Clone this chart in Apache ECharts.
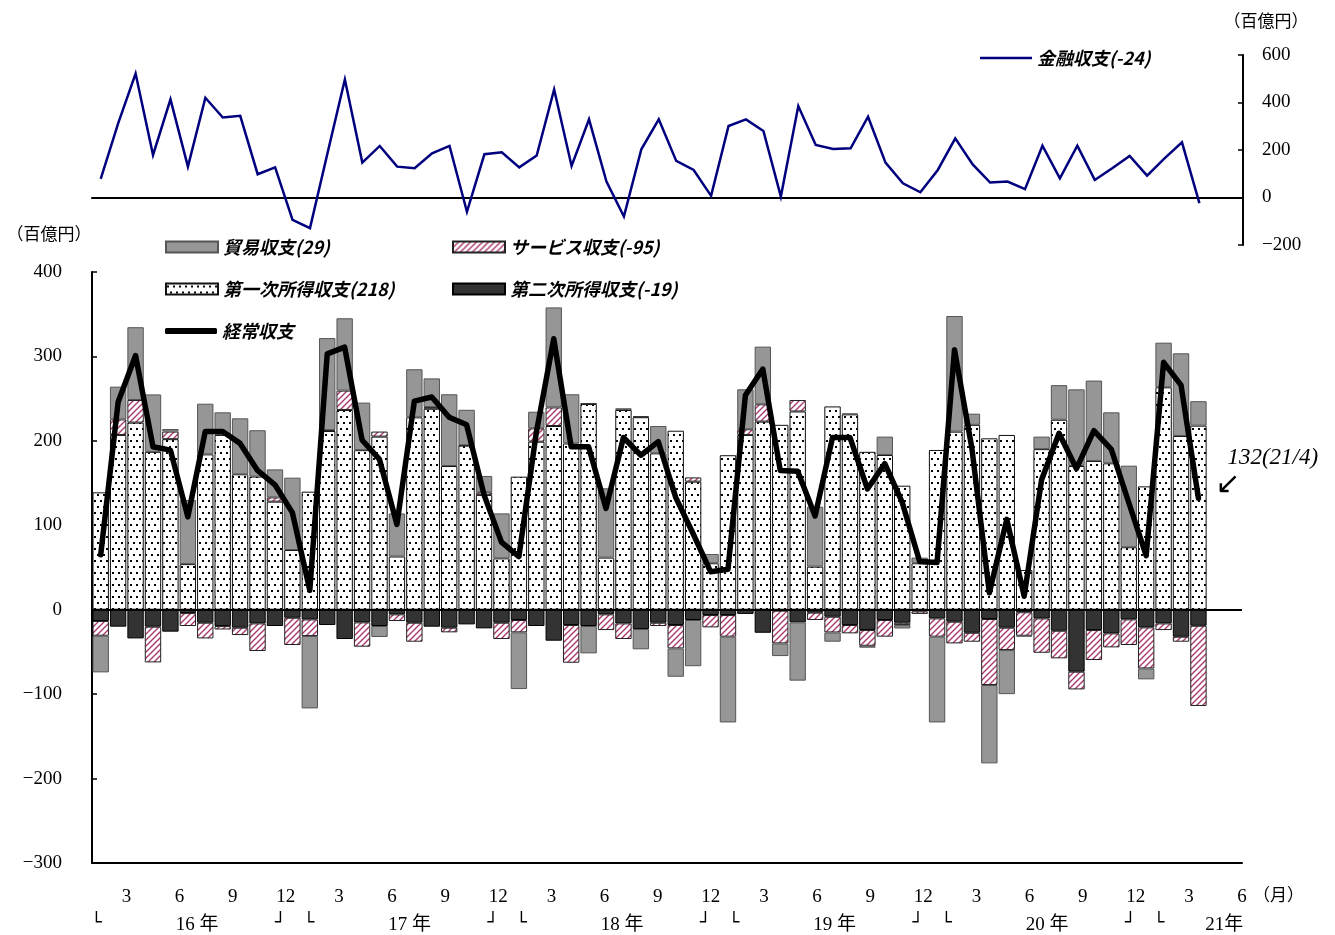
<!DOCTYPE html>
<html>
<head>
<meta charset="utf-8">
<script src="https://cdn.jsdelivr.net/npm/echarts@6.0.0/dist/echarts.min.js"></script>
<style>
  html, body { margin: 0; padding: 0; background: #fff; }
  #chart { width: 1335px; height: 935px; }
</style>
</head>
<body>
<div id="chart"></div>
<script>
// Monthly categories, Jan 2016 – Jun 2021 (data runs through Apr 2021)
const months = [
  '16/1','16/2','16/3','16/4','16/5','16/6','16/7','16/8','16/9','16/10','16/11','16/12',
  '17/1','17/2','17/3','17/4','17/5','17/6','17/7','17/8','17/9','17/10','17/11','17/12',
  '18/1','18/2','18/3','18/4','18/5','18/6','18/7','18/8','18/9','18/10','18/11','18/12',
  '19/1','19/2','19/3','19/4','19/5','19/6','19/7','19/8','19/9','19/10','19/11','19/12',
  '20/1','20/2','20/3','20/4','20/5','20/6','20/7','20/8','20/9','20/10','20/11','20/12',
  '21/1','21/2','21/3','21/4','21/5','21/6'
];

// 貿易収支 (百億円)
const trade = [
  -43.4, 38.8, 86.2, 68, 3, 76, 60, 26.8, 66.3, 54.9, 33.2, 85.7,
  -85.7, 109, 85.7, 56.3, -13, 51, 57, 34, 85, 42, 19.4, 53.3,
  -67.2, 19.7, 118.5, 58.3, -32.4, 82.1, 2, -24, 32.4, -33.6, -54.7, 11,
  -101.6, 47.4, 68.3, -15, -69, 71, -11, 1, -2.3, 21.7, -4, 6.7,
  -101.6, 137, 13.2, -92.8, -52.2, -1, 14.8, 41, 90.8, 95.2, 60.4, 96.6,
  -13, 52.9, 97.9, 29
];
// サービス収支
const services = [
  -17.4, 18.4, 26.8, -42.3, 9, -15.3, -18.6, -4, -8.7, -32.7, 5, -32.3,
  -19.7, 1, 22.9, -28.8, 6, -7.9, -22.5, 2, -5.5, 0.5, 3, -19.3,
  -14.6, 15.8, 22, -44.7, 0.5, -18.6, -18.5, 1, -3.9, -27.7, 5, -14.6,
  -25.6, 6.7, 20.5, -38.7, 13.6, -8.7, -18.6, -9.9, -18.6, -19.7, -2.8, -3,
  -21.6, -25.7, -10.6, -78.2, -26.5, -27.8, -40.7, -32.7, -21, -35.5, -16.6, -30.4,
  -48.6, -7.9, -5.9, -95
];
// 第一次所得収支
const primaryIncome = [
  139, 207, 221.6, 187, 202, 54, 184, 207, 160.4, 157.7, 128, 70.7,
  139.8, 211.7, 236.6, 189, 205, 63, 227.8, 238, 170.2, 194.3, 136, 60.8,
  157.6, 199, 217.6, 196.9, 243.6, 61.7, 236.6, 228, 185.2, 212, 151.7, 55,
  183, 207, 222.8, 219, 234.8, 51, 240.8, 231.4, 187, 183.3, 146.9, 55,
  189.2, 210.9, 219, 203, 207, 47, 190.2, 225, 170.2, 176.2, 173.4, 74,
  146.1, 263.4, 205.8, 218
];
// 第二次所得収支
const secondaryIncome = [
  -13.4, -20.1, -34, -20.1, -26, -4, -15.4, -19.4, -21.3, -16.2, -19.3, -9.5,
  -11.5, -18.1, -34.7, -15, -19.3, -5.5, -15.4, -20.1, -21.3, -17.4, -22.1, -15.4,
  -12.2, -19.3, -36.7, -18.1, -19.3, -5.5, -16.2, -22.9, -15.4, -18.1, -12.2, -6.3,
  -6.3, -5, -27.3, -1.2, -15, -3.5, -8.3, -18.1, -24.1, -12.2, -15.4, -2,
  -10.3, -14.2, -27.3, -11, -21.3, -3, -10.3, -24.9, -73.4, -24.1, -28, -11.4,
  -20.9, -16.2, -32, -19
];
// 経常収支
const currentAccount = [
  65, 246, 301, 193, 189, 110, 211, 211, 197, 165, 148, 115,
  23, 303, 311, 201, 178, 101, 247, 252, 228, 219, 136, 80,
  63, 210, 321, 193, 193, 120, 204, 183, 199, 133, 90, 45,
  48, 254, 285, 165, 164, 111, 204, 204, 143, 173, 127, 57,
  56, 308, 191, 20, 107, 16, 154, 209, 167, 212, 190, 127,
  64, 293, 266, 132
];
// 金融収支
const financial = [
  78, 312, 522, 179, 413, 130, 420, 337, 344, 98, 127, -94,
  -129, 185, 497, 147, 217, 130, 123, 186, 217, -60, 182, 190,
  127, 177, 455, 133, 329, 67, -80, 203, 329, 154, 116, 7,
  301, 329, 280, 4, 385, 221, 204, 207, 340, 147, 60, 22,
  116, 249, 139, 63, 67, 35, 218, 81, 218, 74, 123, 175,
  92, 165, 232, -24
];

const SERIF = "'Liberation Serif', 'DejaVu Serif', 'Noto Sans CJK JP', serif";
const JP = "'Noto Sans CJK JP', sans-serif";
const withMinus = v => String(v).replace('-', '−');

// fill patterns
function dotTile() {
  const c = document.createElement('canvas');
  c.width = 6; c.height = 12;
  const g = c.getContext('2d');
  g.fillStyle = '#fff'; g.fillRect(0, 0, 6, 12);
  g.fillStyle = '#000';
  g.fillRect(1, 2, 2, 2);
  g.fillRect(4, 8, 2, 2);
  return c;
}
function hatchTile() {
  const c = document.createElement('canvas');
  c.width = 6; c.height = 6;
  const g = c.getContext('2d');
  g.fillStyle = '#fff'; g.fillRect(0, 0, 6, 6);
  g.strokeStyle = '#a8386e'; g.lineWidth = 1.4;
  g.beginPath();
  g.moveTo(-1, 7); g.lineTo(7, -1);
  g.moveTo(-4, 4); g.lineTo(4, -4);
  g.moveTo(2, 10); g.lineTo(10, 2);
  g.stroke();
  return c;
}
const dotFill = { image: dotTile(), repeat: 'repeat' };
const hatchFill = { image: hatchTile(), repeat: 'repeat' };

const lastOf = a => a[a.length - 1];
const legendValues = {
  '貿易収支': lastOf(trade),
  'サービス収支': lastOf(services),
  '第一次所得収支': lastOf(primaryIncome),
  '第二次所得収支': lastOf(secondaryIncome),
  '金融収支': lastOf(financial)
};
const legendText = {
  fontFamily: JP, fontSize: 18, fontWeight: 'bold', fontStyle: 'italic', color: '#000'
};
function legendAt(name, left, top, icon, h) {
  return {
    data: [name], left: left, top: top, padding: 0,
    icon: icon, itemWidth: 52, itemHeight: h, itemGap: 0, selectedMode: false,
    textStyle: legendText,
    formatter: n => (n in legendValues) ? `${n}(${Math.round(legendValues[n])})` : n
  };
}

const lastIdx = currentAccount.length - 1;
const lastMonth = months[lastIdx];

const barBase = { type: 'bar', stack: 'bop', xAxisIndex: 0, yAxisIndex: 0, barCategoryGap: '6%' };

// label-only axes share this base (placed under the bar panel)
const labelAxis = extra => Object.assign({
  gridIndex: 2, type: 'category', data: months, boundaryGap: false, position: 'bottom',
  axisLine: { show: false }, axisTick: { show: false }
}, extra);

const option = {
  animation: false,
  backgroundColor: '#fff',
  grid: [
    { left: 92, right: 93, top: 272, bottom: 72 },   // stacked bars
    { left: 92, right: 92, top: 55, height: 190 },    // 金融収支 panel
    { left: 91, right: 93, top: 272, bottom: 72 }     // month / year labels
  ],
  legend: [
    legendAt('金融収支', 980, 49, 'rect', 2.5),
    legendAt('貿易収支', 165, 238, 'rect', 11),
    legendAt('サービス収支', 452, 238, 'rect', 11),
    legendAt('第一次所得収支', 165, 280, 'rect', 11),
    legendAt('第二次所得収支', 452, 280, 'rect', 11),
    legendAt('経常収支', 165, 322, 'roundRect', 6)
  ],
  xAxis: [
    {
      gridIndex: 0, type: 'category', data: months, position: 'bottom',
      axisLine: { onZero: false, lineStyle: { color: '#000', width: 2 } },
      axisTick: { inside: true, length: 5, interval: 0, lineStyle: { color: '#000', width: 1.5 } },
      axisLabel: { show: false }
    },
    {
      gridIndex: 1, type: 'category', data: months, position: 'bottom',
      axisLine: { onZero: true, lineStyle: { color: '#000', width: 2 } },
      axisTick: { show: false }, axisLabel: { show: false }
    },
    labelAxis({
      axisLabel: {
        interval: 0, margin: 26, fontFamily: SERIF, fontSize: 19, color: '#000',
        formatter: (v, i) => { const m = i % 12 + 1; return m % 3 === 0 ? String(m) : ''; }
      }
    }),
    labelAxis({
      axisLabel: {
        interval: 0, margin: 54, fontFamily: SERIF, fontSize: 19, color: '#000',
        formatter: (v, i) => {
          if (i % 12 !== 6 && i !== lastIdx + 1) return '';
          const yy = v.split('/')[0];
          return i % 12 === 6 && i < 60 ? `${yy} 年` : `${yy}年`;
        }
      }
    }),
    labelAxis({
      axisLabel: {
        interval: 0, margin: 52, align: 'left', fontFamily: 'DejaVu Sans', fontSize: 18, color: '#000',
        formatter: (v, i) => i % 12 === 0 ? '└' : ''
      }
    }),
    labelAxis({
      axisLabel: {
        interval: 0, margin: 52, align: 'right', fontFamily: 'DejaVu Sans', fontSize: 18, color: '#000',
        formatter: (v, i) => i % 12 === 11 ? '┘' : ''
      }
    })
  ],
  yAxis: [
    {
      gridIndex: 0, type: 'value', min: -300, max: 400, interval: 100,
      name: '（百億円）', nameLocation: 'end', nameGap: 30,
      nameTextStyle: { fontFamily: JP, fontSize: 17, color: '#000', padding: [0, 86, 0, 0] },
      axisLine: { show: true, lineStyle: { color: '#000', width: 2 } },
      axisTick: { show: true, inside: true, length: 5, lineStyle: { color: '#000', width: 1.5 } },
      axisLabel: { margin: 30, fontFamily: SERIF, fontSize: 19, color: '#000', formatter: withMinus },
      splitLine: { show: false }
    },
    {
      gridIndex: 1, type: 'value', position: 'right', min: -200, max: 600, interval: 200,
      name: '（百億円）', nameLocation: 'end', nameGap: 26,
      nameTextStyle: { fontFamily: JP, fontSize: 17, color: '#000', padding: [0, 0, 0, 46] },
      axisLine: { show: true, lineStyle: { color: '#000', width: 2 } },
      axisTick: { show: true, inside: true, length: 5, lineStyle: { color: '#000', width: 1.5 } },
      axisLabel: { margin: 19, fontFamily: SERIF, fontSize: 19, color: '#000', formatter: withMinus },
      splitLine: { show: false }
    },
    { gridIndex: 2, type: 'value', show: false, min: 0, max: 1 }
  ],
  graphic: [
    { type: 'text', left: 1253, top: 886, style: { text: '（月）', font: `17px ${JP}`, fill: '#000' } }
  ],
  series: [
    Object.assign({}, barBase, {
      name: '第一次所得収支', data: primaryIncome,
      itemStyle: { color: dotFill, borderColor: '#111', borderWidth: 1 },
      markLine: {
        silent: true, symbol: ['none', 'none'], label: { show: false },
        lineStyle: { color: '#000', width: 2, type: 'solid' },
        data: [{ yAxis: 0 }]
      }
    }),
    Object.assign({}, barBase, {
      name: '第二次所得収支', data: secondaryIncome,
      itemStyle: { color: '#333333', borderColor: '#000', borderWidth: 1 }
    }),
    Object.assign({}, barBase, {
      name: 'サービス収支', data: services,
      itemStyle: { color: hatchFill, borderColor: '#222', borderWidth: 1 }
    }),
    Object.assign({}, barBase, {
      name: '貿易収支', data: trade,
      itemStyle: { color: '#969696', borderColor: '#555', borderWidth: 1 }
    }),
    {
      name: '経常収支', type: 'line', xAxisIndex: 0, yAxisIndex: 0, data: currentAccount,
      symbol: 'none', z: 5,
      lineStyle: { color: '#000', width: 5.5, join: 'round', cap: 'round' },
      itemStyle: { color: '#000' },
      endLabel: {
        show: true, distance: 5, offset: [12, -26],
        formatter: p => `{t|${p.value}(${lastMonth})}\n{a|↙}`,
        rich: {
          t: { fontFamily: SERIF, fontStyle: 'italic', fontSize: 23, color: '#000', padding: [0, 0, 0, 12], lineHeight: 26 },
          a: { fontFamily: 'DejaVu Sans', fontSize: 30, color: '#000', lineHeight: 28 }
        }
      }
    },
    {
      name: '金融収支', type: 'line', xAxisIndex: 1, yAxisIndex: 1, data: financial,
      symbol: 'none', z: 5,
      lineStyle: { color: '#00007f', width: 2.5, join: 'miter' },
      itemStyle: { color: '#00007f' }
    }
  ]
};

const chart = echarts.init(document.getElementById('chart'), null, { renderer: 'canvas' });
chart.setOption(option);
</script>
</body>
</html>
